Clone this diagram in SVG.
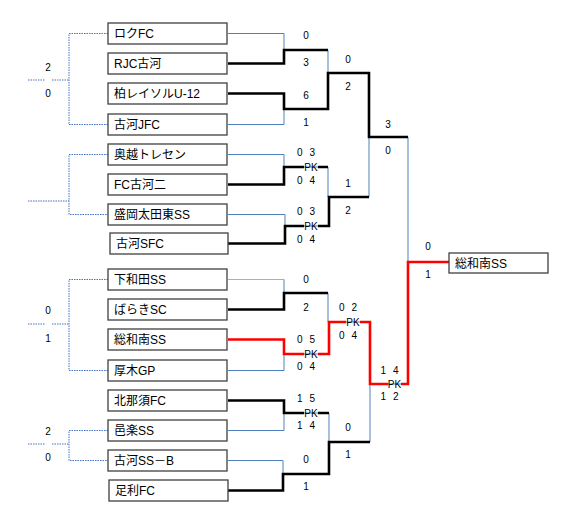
<svg xmlns="http://www.w3.org/2000/svg" width="588" height="523" viewBox="0 0 588 523">
<style>
.box{fill:#fff;stroke:#404040;stroke-width:1.3}
.name{font-family:"Liberation Sans","Noto Sans CJK JP",sans-serif;font-size:12px;fill:#000}
.sc{font-family:"Liberation Sans",sans-serif;font-size:10px;fill:#000}
.thin{fill:none;stroke:#4f81bd;stroke-width:1}
.lb{fill:none;stroke:#95b3d7;stroke-width:1.2}
.win{fill:none;stroke:#000;stroke-width:2.6}
.red{fill:none;stroke:#f00;stroke-width:2.6}
.dot{fill:none;stroke:#4472c4;stroke-width:1;stroke-dasharray:1.5 1}
</style>
<rect width="588" height="523" fill="#fff"/>
<g id="connectors">
<!-- dotted consolation lines -->
<path class="dot" d="M108,33.5 H69 V124.5 H108 M28,80 H45 M52,80 H69"/>
<path class="dot" d="M108,154.5 H69 V214.5 H108 M28,201 H69"/>
<path class="dot" d="M108,279.5 H69 V370.5 H108 M28,324 H45 M52,324 H69"/>
<path class="dot" d="M108,430.5 H69 V460.5 H108 M28,444 H45 M52,444 H69"/>
<!-- losers thin -->
<path class="thin" d="M228,33.5 H284 V50"/>
<path class="thin" d="M328,50 V73"/>
<path class="thin" d="M228,124.5 H284 V109"/>
<path class="thin" d="M408,137 V262"/>
<path class="thin" d="M228,154.5 H284 V167"/>
<path class="thin" d="M304,167 H318 M328,167 V197"/>
<path class="thin" d="M228,214.5 H285 V226"/>
<path class="thin" d="M304,226 H318 M369,197 V137"/>
<path class="lb" d="M228,279.5 H284"/>
<path class="thin" d="M284,279.5 V293"/>
<path class="thin" d="M328,293 V322"/>
<path class="thin" d="M228,370.5 H284 V354"/>
<path class="thin" d="M304,354 H318 M346,322 H360 M388,384 H401"/>
<path class="thin" d="M304,413 H318 M329,413 V442"/>
<path class="thin" d="M228,430.5 H284 V413"/>
<path class="thin" d="M228,460.5 H283 V474"/>
<path class="thin" d="M370,442 V384"/>
<!-- winners -->
<path class="win" d="M228,63.5 H284 V50 H328"/>
<path class="win" d="M228,93.5 H284 V109 H328 V73 H369 V137 H408"/>
<path class="win" d="M228,184.5 H284 V167 H304 M318,167 H328"/>
<path class="win" d="M228,243.5 H285 V226 H304 M318,226 H329 V197 H369"/>
<path class="win" d="M228,309.5 H284 V293 H328"/>
<path class="win" d="M228,400.5 H284 V413 H304 M318,413 H329"/>
<path class="win" d="M228,490.5 H283 V474 H329 V442 H370"/>
<path class="red" d="M228,339.5 H284 V354 H304 M318,354 H329 V322 H346 M360,322 H370 V384 H388 M401,384 H408 V262 H449"/>
</g>
<g id="scores">
<text class="sc" x="48" y="70.5" text-anchor="middle">2</text>
<text class="sc" x="48" y="96.5" text-anchor="middle">0</text>
<text class="sc" x="48" y="314" text-anchor="middle">0</text>
<text class="sc" x="48" y="341.5" text-anchor="middle">1</text>
<text class="sc" x="48" y="434.5" text-anchor="middle">2</text>
<text class="sc" x="48" y="461" text-anchor="middle">0</text>
<text class="sc" x="306" y="38.5" text-anchor="middle">0</text>
<text class="sc" x="306" y="65.5" text-anchor="middle">3</text>
<text class="sc" x="306" y="98.5" text-anchor="middle">6</text>
<text class="sc" x="306" y="126" text-anchor="middle">1</text>
<text class="sc" x="348" y="63" text-anchor="middle">0</text>
<text class="sc" x="348" y="89.5" text-anchor="middle">2</text>
<text class="sc" x="388" y="127.5" text-anchor="middle">3</text>
<text class="sc" x="388" y="154" text-anchor="middle">0</text>
<text class="sc" x="297 303 309.5" y="155.5">0 3</text>
<text class="sc" x="311" y="170.5" text-anchor="middle">PK</text>
<text class="sc" x="297 303 309.5" y="183.5">0 4</text>
<text class="sc" x="348" y="187" text-anchor="middle">1</text>
<text class="sc" x="348" y="213.5" text-anchor="middle">2</text>
<text class="sc" x="297 303 309.5" y="214.5">0 3</text>
<text class="sc" x="311" y="229.5" text-anchor="middle">PK</text>
<text class="sc" x="297 303 309.5" y="242.5">0 4</text>
<text class="sc" x="428" y="250" text-anchor="middle">0</text>
<text class="sc" x="428" y="278" text-anchor="middle">1</text>
<text class="sc" x="306" y="283" text-anchor="middle">0</text>
<text class="sc" x="306" y="310.5" text-anchor="middle">2</text>
<text class="sc" x="297 303 309.5" y="342.5">0 5</text>
<text class="sc" x="311" y="357.5" text-anchor="middle">PK</text>
<text class="sc" x="297 303 309.5" y="369.5">0 4</text>
<text class="sc" x="339 345 351.5" y="311">0 2</text>
<text class="sc" x="353" y="325.5" text-anchor="middle">PK</text>
<text class="sc" x="339 345 351.5" y="338.5">0 4</text>
<text class="sc" x="297 303 309.5" y="401.5">1 5</text>
<text class="sc" x="311" y="416.5" text-anchor="middle">PK</text>
<text class="sc" x="297 303 309.5" y="428.5">1 4</text>
<text class="sc" x="306" y="462.5" text-anchor="middle">0</text>
<text class="sc" x="306" y="489.5" text-anchor="middle">1</text>
<text class="sc" x="348" y="430.5" text-anchor="middle">0</text>
<text class="sc" x="348" y="457.5" text-anchor="middle">1</text>
<text class="sc" x="380.5 387 393" y="373.5">1 4</text>
<text class="sc" x="394.5" y="387.5" text-anchor="middle">PK</text>
<text class="sc" x="380.5 387 393" y="400">1 2</text>
</g>
<g id="team1"><rect class="box" x="108" y="23" width="119" height="21"/><text class="name" x="114" y="38">ロクFC</text></g>
<g id="team2"><rect class="box" x="108" y="53" width="119" height="21"/><text class="name" x="114" y="68">RJC古河</text></g>
<g id="team3"><rect class="box" x="108" y="83" width="119" height="21"/><text class="name" x="114" y="98">柏レイソルU-12</text></g>
<g id="team4"><rect class="box" x="108" y="114" width="119" height="21"/><text class="name" x="114" y="129">古河JFC</text></g>
<g id="team5"><rect class="box" x="108" y="144" width="119" height="21"/><text class="name" x="114" y="159">奥越トレセン</text></g>
<g id="team6"><rect class="box" x="108" y="174" width="119" height="21"/><text class="name" x="114" y="189">FC古河二</text></g>
<g id="team7"><rect class="box" x="108" y="204" width="119" height="21"/><text class="name" x="114" y="219">盛岡太田東SS</text></g>
<g id="team8"><rect class="box" x="110" y="233" width="118" height="21"/><text class="name" x="116" y="248">古河SFC</text></g>
<g id="team9"><rect class="box" x="108" y="269" width="119" height="21"/><text class="name" x="114" y="284">下和田SS</text></g>
<g id="team10"><rect class="box" x="108" y="299" width="119" height="21"/><text class="name" x="114" y="314">ばらきSC</text></g>
<g id="team11"><rect class="box" x="108" y="329" width="119" height="21"/><text class="name" x="114" y="344">総和南SS</text></g>
<g id="team12"><rect class="box" x="108" y="360" width="119" height="21"/><text class="name" x="114" y="375">厚木GP</text></g>
<g id="team13"><rect class="box" x="108" y="390" width="119" height="21"/><text class="name" x="114" y="405">北那須FC</text></g>
<g id="team14"><rect class="box" x="108" y="420" width="119" height="21"/><text class="name" x="114" y="435">邑楽SS</text></g>
<g id="team15"><rect class="box" x="108" y="450" width="119" height="21"/><text class="name" x="114" y="465">古河SS－B</text></g>
<g id="team16"><rect class="box" x="109" y="480" width="119" height="21"/><text class="name" x="115" y="495">足利FC</text></g>
<g id="champion"><rect class="box" x="449" y="253" width="99" height="20"/><text class="name" x="455" y="267.5">総和南SS</text></g>
</svg>
